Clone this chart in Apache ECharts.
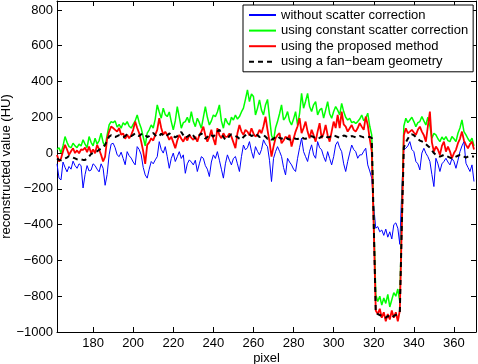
<!DOCTYPE html>
<html>
<head>
<meta charset="utf-8">
<script src="https://cdn.jsdelivr.net/npm/echarts@6/dist/echarts.min.js"></script>
<style>
  html, body { margin: 0; padding: 0; background: #fff; }
  #chart { width: 478px; height: 364px; }
</style>
</head>
<body>
<div id="chart"></div>
<script>
// detector pixel index of the first sample, one sample per pixel
const firstPixel = 162;

const noScatterCorr = [
  -60, -140, -150, -50, -80, -105, -75, -90, -45, -70,
  -85, -60, -70, -195, -120, -70, -100, -95, -60, -70,
  -90, -105, -60, -85, -180, -120, -10, 50, 55, 30,
  -10, -20, 5, -30, -65, 8, -15, -28, -50, -66,
  36, 20, -10, -80, -122, -140, -90, -47, -60, -38,
  -20, 64, 20, 0, 36, -20, -85, -30, 0, -47,
  -20, 8, -30, -10, -113, -60, -38, -50, -66, -40,
  -103, -60, -20, -29, -70, -90, -131, -50, -10, -30,
  8, -40, -90, -140, -60, -10, -40, -66, -30, -19,
  -60, -103, -20, 45, 18, 30, 64, 10, -29, 36,
  10, -10, 20, 74, 50, 36, -40, -159, -30, 8,
  36, 10, -19, -80, -122, -29, -50, -66, -90, -103,
  -29, 30, 83, 8, -20, -47, 10, 46, -10, -29,
  64, 30, 18, -20, -47, 8, -30, -66, -20, 46,
  64, 30, 8, -60, -103, -47, 0, 45, 20, 8,
  -29, -10, -10, 10, 27, -66, -100, -140, -300, -420,
  -411, -440, -430, -460, -425, -470, -440, -480, -400, -390,
  -420, -510, -200, 20, 27, 40, 64, 20, 8, -47,
  -60, -94, 0, 27, -1, -20, -47, -120, -187, -29,
  -60, -103, -60, -47, -29, -50, -66, -30, -47, -85,
  -40, 8, 40, 64, -57, -80, -103, -66, -159
];

const constScatterCorr = [
  20, 30, 0, 40, 92, 60, 36, 30, 55, 40,
  30, 50, 40, 74, 50, 30, 92, 60, 40, 83,
  50, 70, 111, 60, 36, 100, 157, 176, 170, 180,
  145, 160, 139, 170, 157, 176, 150, 140, 160, 180,
  213, 170, 139, 90, 40, 111, 130, 157, 140, 190,
  269, 230, 195, 251, 215, 204, 230, 176, 130, 180,
  260, 200, 139, 170, 176, 200, 170, 232, 176, 148,
  195, 170, 139, 200, 260, 200, 157, 180, 213, 204,
  230, 269, 180, 139, 195, 170, 157, 200, 185, 213,
  190, 204, 230, 251, 300, 353, 288, 330, 316, 213,
  250, 297, 240, 213, 269, 300, 200, 100, 70, 140,
  176, 220, 269, 185, 200, 232, 180, 157, 190, 232,
  157, 220, 334, 251, 290, 334, 260, 232, 270, 288,
  213, 240, 251, 195, 240, 288, 220, 195, 232, 260,
  240, 213, 278, 232, 200, 185, 195, 170, 176, 165,
  176, 190, 213, 180, 195, 223, 150, 100, -380, -790,
  -830, -800, -850, -810, -840, -790, -860, -820, -780, -800,
  -760, -830, -350, 150, 195, 170, 185, 200, 176, 148,
  170, 176, 204, 180, 157, 200, 150, 83, 110, 102,
  80, 64, 90, 74, 92, 70, 64, 92, 80, 64,
  111, 140, 185, 120, 102, 80, 64, 83, 40
];

const proposedMethod = [
  -10, -47, -30, 10, 46, 20, -10, 10, 27, 0,
  15, -1, 20, 18, 30, 5, 36, 0, 20, -1,
  46, 20, -10, -47, -20, 80, 120, 148, 140, 130,
  120, 140, 102, 110, 80, 102, 83, 100, 130, 176,
  140, 111, 64, 10, -60, 46, 60, 83, 70, 102,
  130, 195, 140, 102, 120, 100, 74, 92, 60, 27,
  70, 102, 80, 64, 90, 70, 102, 85, 74, 92,
  64, 100, 120, 148, 100, 64, 90, 130, 80, 46,
  139, 100, 83, 111, 90, 92, 110, 92, 60, 27,
  111, 157, 120, 102, 130, 120, 100, 139, 110, 92,
  102, 130, 111, 150, 204, 130, 64, -20, 36, 83,
  100, 111, 55, 70, 92, 80, 102, 36, 80, 120,
  150, 195, 111, 140, 176, 120, 83, 130, 100, 64,
  120, 167, 83, 110, 157, 100, 64, 120, 176, 140,
  213, 139, 232, 160, 148, 120, 139, 157, 130, 120,
  140, 167, 148, 130, 204, 157, 80, 10, -420, -880,
  -900, -870, -920, -890, -940, -900, -930, -880, -920, -890,
  -940, -880, -400, 100, 139, 111, 120, 130, 115, 102,
  130, 148, 120, 100, 64, 150, 232, 60, 8, 36,
  20, -10, 40, 64, 8, 36, 10, -29, 0, 18,
  55, 80, 120, 70, 46, 27, 50, 64, 20
];

const fanBeam = [
  -30, -38, -40, -35, -30, -25, -16, -20, -25, -30,
  -35, -38, -35, -38, -38, -30, -20, -5, 0, 5,
  10, 18, 25, 35, 46, 70, 92, 100, 95, 90,
  95, 100, 92, 88, 95, 105, 100, 95, 102, 110,
  100, 95, 105, 110, 100, 90, 95, 105, 112, 100,
  90, 95, 108, 100, 92, 100, 110, 102, 95, 88,
  95, 105, 118, 100, 85, 92, 100, 110, 98, 80,
  90, 100, 110, 95, 80, 90, 105, 100, 92, 105,
  120, 130, 110, 90, 75, 80, 95, 105, 100, 95,
  90, 80, 75, 90, 100, 110, 105, 95, 100, 110,
  100, 90, 95, 100, 92, 80, 85, 75, 80, 90,
  95, 85, 80, 85, 90, 80, 75, 82, 85, 80,
  78, 85, 90, 82, 80, 85, 90, 95, 90, 82,
  80, 85, 92, 100, 95, 88, 90, 98, 100, 95,
  90, 85, 92, 98, 95, 88, 90, 95, 92, 88,
  90, 95, 92, 88, 90, 92, 90, 85, -400, -890,
  -900, -905, -910, -915, -920, -910, -915, -920, -910, -905,
  -900, -890, -400, 30, 60, 80, 100, 105, 100, 90,
  80, 70, 65, 60, 50, 40, 30, 15, 0, -10,
  -15, -20, -15, -10, -15, -20, -25, -30, -25, -20,
  -15, -10, -15, -20, -25, -20, -15, -18, -20
];

const xTicks = [180, 200, 220, 240, 260, 280, 300, 320, 340, 360];
const yTicks = [-1000, -800, -600, -400, -200, 0, 200, 400, 600, 800];

const seriesNames = [
  'without scatter correction',
  'using constant scatter correction',
  'using the proposed method',
  'using a fan\u2212beam geometry',
];

const FONT = '"Liberation Sans", Arial, Helvetica, sans-serif';

const toPoints = arr => arr.map((v, i) => [firstPixel + i, v]);
const minus = v => String(v).replace('-', '\u2212');

const chart = echarts.init(document.getElementById('chart'));

const axisBase = {
  axisLine: { show: true, onZero: false, lineStyle: { color: '#000', width: 1 } },
  splitLine: { show: false },
};

const option = {
  animation: false,
  backgroundColor: '#fff',
  grid: { left: 57, right: 2, top: 1, bottom: 32, containLabel: false, outerBoundsMode: 'none' },
  legend: {
    orient: 'vertical',
    left: 243,
    top: 5,
    padding: [3, 5, 3, 5],
    itemWidth: 27,
    itemHeight: 10,
    itemGap: 1.6,
    borderColor: '#000',
    borderWidth: 1,
    backgroundColor: '#fff',
    selectedMode: false,
    itemStyle: { opacity: 0 }, // hide the marker dot, keep the line
    textStyle: { color: '#000', fontSize: 13, fontFamily: FONT, lineHeight: 14 },
    data: seriesNames,
  },
  xAxis: [
    {
      ...axisBase,
      type: 'value',
      min: 162,
      max: 371,
      name: 'pixel',
      nameLocation: 'middle',
      nameGap: 20,
      nameMoveOverlap: false,
      nameTextStyle: { color: '#000', fontSize: 13, fontFamily: FONT },
      axisTick: { inside: true, length: 5, customValues: xTicks, lineStyle: { color: '#000' } },
      axisLabel: { customValues: xTicks, color: '#000', fontSize: 13, fontFamily: FONT, margin: 5 },
    },
    {
      ...axisBase,
      type: 'value',
      position: 'top',
      min: 162,
      max: 371,
      axisTick: { inside: true, length: 5, customValues: xTicks, lineStyle: { color: '#000' } },
      axisLabel: { show: false },
    },
  ],
  yAxis: [
    {
      ...axisBase,
      type: 'value',
      min: -1000,
      max: 850,
      name: 'reconstructed value (HU)',
      nameLocation: 'middle',
      nameGap: 44,
      nameMoveOverlap: false,
      nameTextStyle: { color: '#000', fontSize: 13, fontFamily: FONT },
      axisTick: { inside: true, length: 5, customValues: yTicks, lineStyle: { color: '#000' } },
      axisLabel: {
        customValues: yTicks,
        color: '#000',
        fontSize: 13,
        fontFamily: FONT,
        margin: 4,
        formatter: minus,
      },
    },
    {
      ...axisBase,
      type: 'value',
      position: 'right',
      min: -1000,
      max: 850,
      axisTick: { inside: true, length: 5, customValues: yTicks, lineStyle: { color: '#000' } },
      axisLabel: { show: false },
    },
  ],
  series: [
    {
      name: seriesNames[0],
      type: 'line',
      data: toPoints(noScatterCorr),
      symbol: 'none',
      color: '#0000ff',
      lineStyle: { color: '#0000ff', width: 1 },
      z: 2,
    },
    {
      name: seriesNames[1],
      type: 'line',
      data: toPoints(constScatterCorr),
      symbol: 'none',
      color: '#00ff00',
      lineStyle: { color: '#00ff00', width: 1.5 },
      z: 3,
    },
    {
      name: seriesNames[2],
      type: 'line',
      data: toPoints(proposedMethod),
      symbol: 'none',
      color: '#ff0000',
      lineStyle: { color: '#ff0000', width: 1.8 },
      z: 4,
    },
    {
      name: seriesNames[3],
      type: 'line',
      data: toPoints(fanBeam),
      symbol: 'none',
      color: '#000',
      lineStyle: { color: '#000', width: 2, type: [5, 4] },
      z: 5,
    },
  ],
};

chart.setOption(option);
</script>
</body>
</html>
